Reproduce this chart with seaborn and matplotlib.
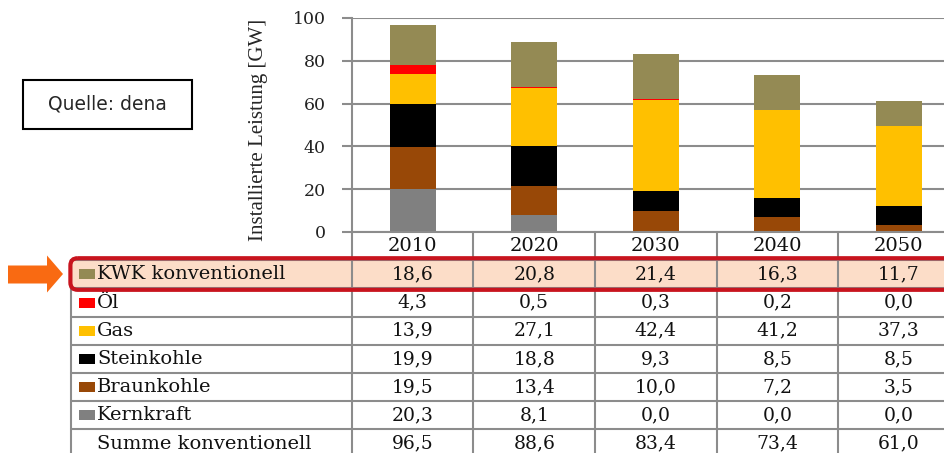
import numpy as np
import pandas as pd
import seaborn as sns
import matplotlib.pyplot as plt
from matplotlib.patches import Rectangle, FancyBboxPatch, Polygon

years = ['2010', '2020', '2030', '2040', '2050']
# stack order, bottom to top
sources = ['Kernkraft', 'Braunkohle', 'Steinkohle', 'Gas', 'Öl', 'KWK konventionell']
kernkraft = [20.3, 8.1, 0.0, 0.0, 0.0]
braunkohle = [19.5, 13.4, 10.0, 7.2, 3.5]
steinkohle = [19.9, 18.8, 9.3, 8.5, 8.5]
gas = [13.9, 27.1, 42.4, 41.2, 37.3]
oel = [4.3, 0.5, 0.3, 0.2, 0.0]
kwk = [18.6, 20.8, 21.4, 16.3, 11.7]
summe = [96.5, 88.6, 83.4, 73.4, 61.0]
colors = ['#808080', '#984807', '#000000', '#FFC000', '#FF0000', '#948A54']

sns.set_style('white')
plt.rcParams['font.family'] = ['DejaVu Serif']

W, H = 944, 453
def fx(x): return x / W
def fy(y): return 1 - y / H

df = pd.DataFrame({'year': years, 'Kernkraft': kernkraft, 'Braunkohle': braunkohle,
                   'Steinkohle': steinkohle, 'Gas': gas, 'Öl': oel,
                   'KWK konventionell': kwk})
cum = df[sources].cumsum(axis=1)
cum['year'] = years

fig = plt.figure(figsize=(W / 100, H / 100), dpi=100)
unit = 121.5
ax = fig.add_axes([fx(352), fy(232), 5 * unit / W, 214 / H])

# draw from top layer down so each cumulative bar hides the one below
for src, col in reversed(list(zip(sources, colors))):
    sns.barplot(data=cum, x='year', y=src, color=col, width=0.38, ax=ax,
                saturation=1, linewidth=0)

grey = '#8c8c8c'
ax.set_ylim(0, 100)
ax.set_xlim(-0.5, 4.5)
ax.set_yticks(range(0, 101, 20))
ax.yaxis.grid(True, color=grey, lw=1.5)
ax.set_axisbelow(True)
for s in ['top', 'right']:
    ax.spines[s].set_visible(False)
for s in ['left', 'bottom']:
    ax.spines[s].set_color(grey)
    ax.spines[s].set_linewidth(1.5)
ax.tick_params(axis='y', length=7, width=1.5, color=grey, pad=12, labelsize=12.5,
               left=True, labelcolor='#222222')
ax.tick_params(axis='x', bottom=False, labelbottom=False)
ax.set_xlabel('')
ax.set_ylabel('Installierte Leistung [GW]', fontsize=15, family='Liberation Serif')
ax.yaxis.set_label_coords(-0.138, 0.477)

# table below the chart
rh = 28.2
x0 = -0.5 - (352 - 71) / unit
tax = fig.add_axes([fx(71), fy(232 + 8 * rh), (352 + 5 * unit - 71) / W, 8 * rh / H])
tax.set_xlim(x0, 4.5)
tax.set_ylim(8, 0)
tax.axis('off')

asp = unit / rh
hl = FancyBboxPatch((x0 - 0.005, 0.93), 8, 1.12,
                    boxstyle='round,pad=0,rounding_size=0.06', mutation_aspect=asp,
                    fc='#FCDDC8', ec='none', zorder=0, clip_on=False)
tax.add_patch(hl)

for r in range(1, 9):
    tax.plot([x0, 4.5], [r, r], color=grey, lw=1.5, zorder=1, clip_on=False)
tax.plot([x0, x0], [1, 8], color=grey, lw=1.5, zorder=1, clip_on=False)
for c in [-0.5, 0.5, 1.5, 2.5, 3.5]:
    tax.plot([c, c], [0, 8], color=grey, lw=1.5, zorder=1, clip_on=False)

border = FancyBboxPatch((x0 - 0.005, 0.93), 8, 1.12,
                        boxstyle='round,pad=0,rounding_size=0.06', mutation_aspect=asp,
                        fc='none', ec='#C8141E', lw=3, zorder=5, clip_on=False)
tax.add_patch(border)

def fmt(v):
    return f'{v:.1f}'.replace('.', ',')

for i, y in enumerate(years):
    tax.text(i, 0.5, y, ha='center', va='center', fontsize=14, color='#111111')

rows = [('KWK konventionell', kwk, colors[5]), ('Öl', oel, colors[4]), ('Gas', gas, colors[3]),
        ('Steinkohle', steinkohle, colors[2]), ('Braunkohle', braunkohle, colors[1]),
        ('Kernkraft', kernkraft, colors[0]), ('Summe konventionell', summe, None)]
tx = x0 + (97 - 71) / unit
for r, (name, vals, col) in enumerate(rows, start=1):
    yc = r + 0.5
    if col is not None:
        tax.add_patch(Rectangle((x0 + 8 / unit, yc - 5 / rh), 16 / unit, 10 / rh,
                                fc=col, ec='none', zorder=3))
    tax.text(tx, yc, name, ha='left', va='center', fontsize=14, color='#111111', zorder=4)
    for i, v in enumerate(vals):
        tax.text(i, yc, fmt(v), ha='center', va='center', fontsize=13.5,
                 color='#111111', zorder=4)

# orange arrow pointing at the highlighted row
pts = [(8, 265.5), (47, 265.5), (47, 255.5), (63, 274), (47, 292.5), (47, 283.5), (8, 283.5)]
fig.add_artist(Polygon([(fx(x), fy(y)) for x, y in pts], closed=True,
                       transform=fig.transFigure, fc='#F96A12', ec='none'))

# source box
fig.add_artist(Rectangle((fx(23), fy(129)), (192 - 23) / W, 49 / H, transform=fig.transFigure,
                         fill=False, ec='black', lw=1.5))
fig.text(fx(107.5), fy(104.5), 'Quelle: dena', ha='center', va='center',
         fontsize=13.5, family='DejaVu Sans')

fig.savefig('out.png', dpi=100)
